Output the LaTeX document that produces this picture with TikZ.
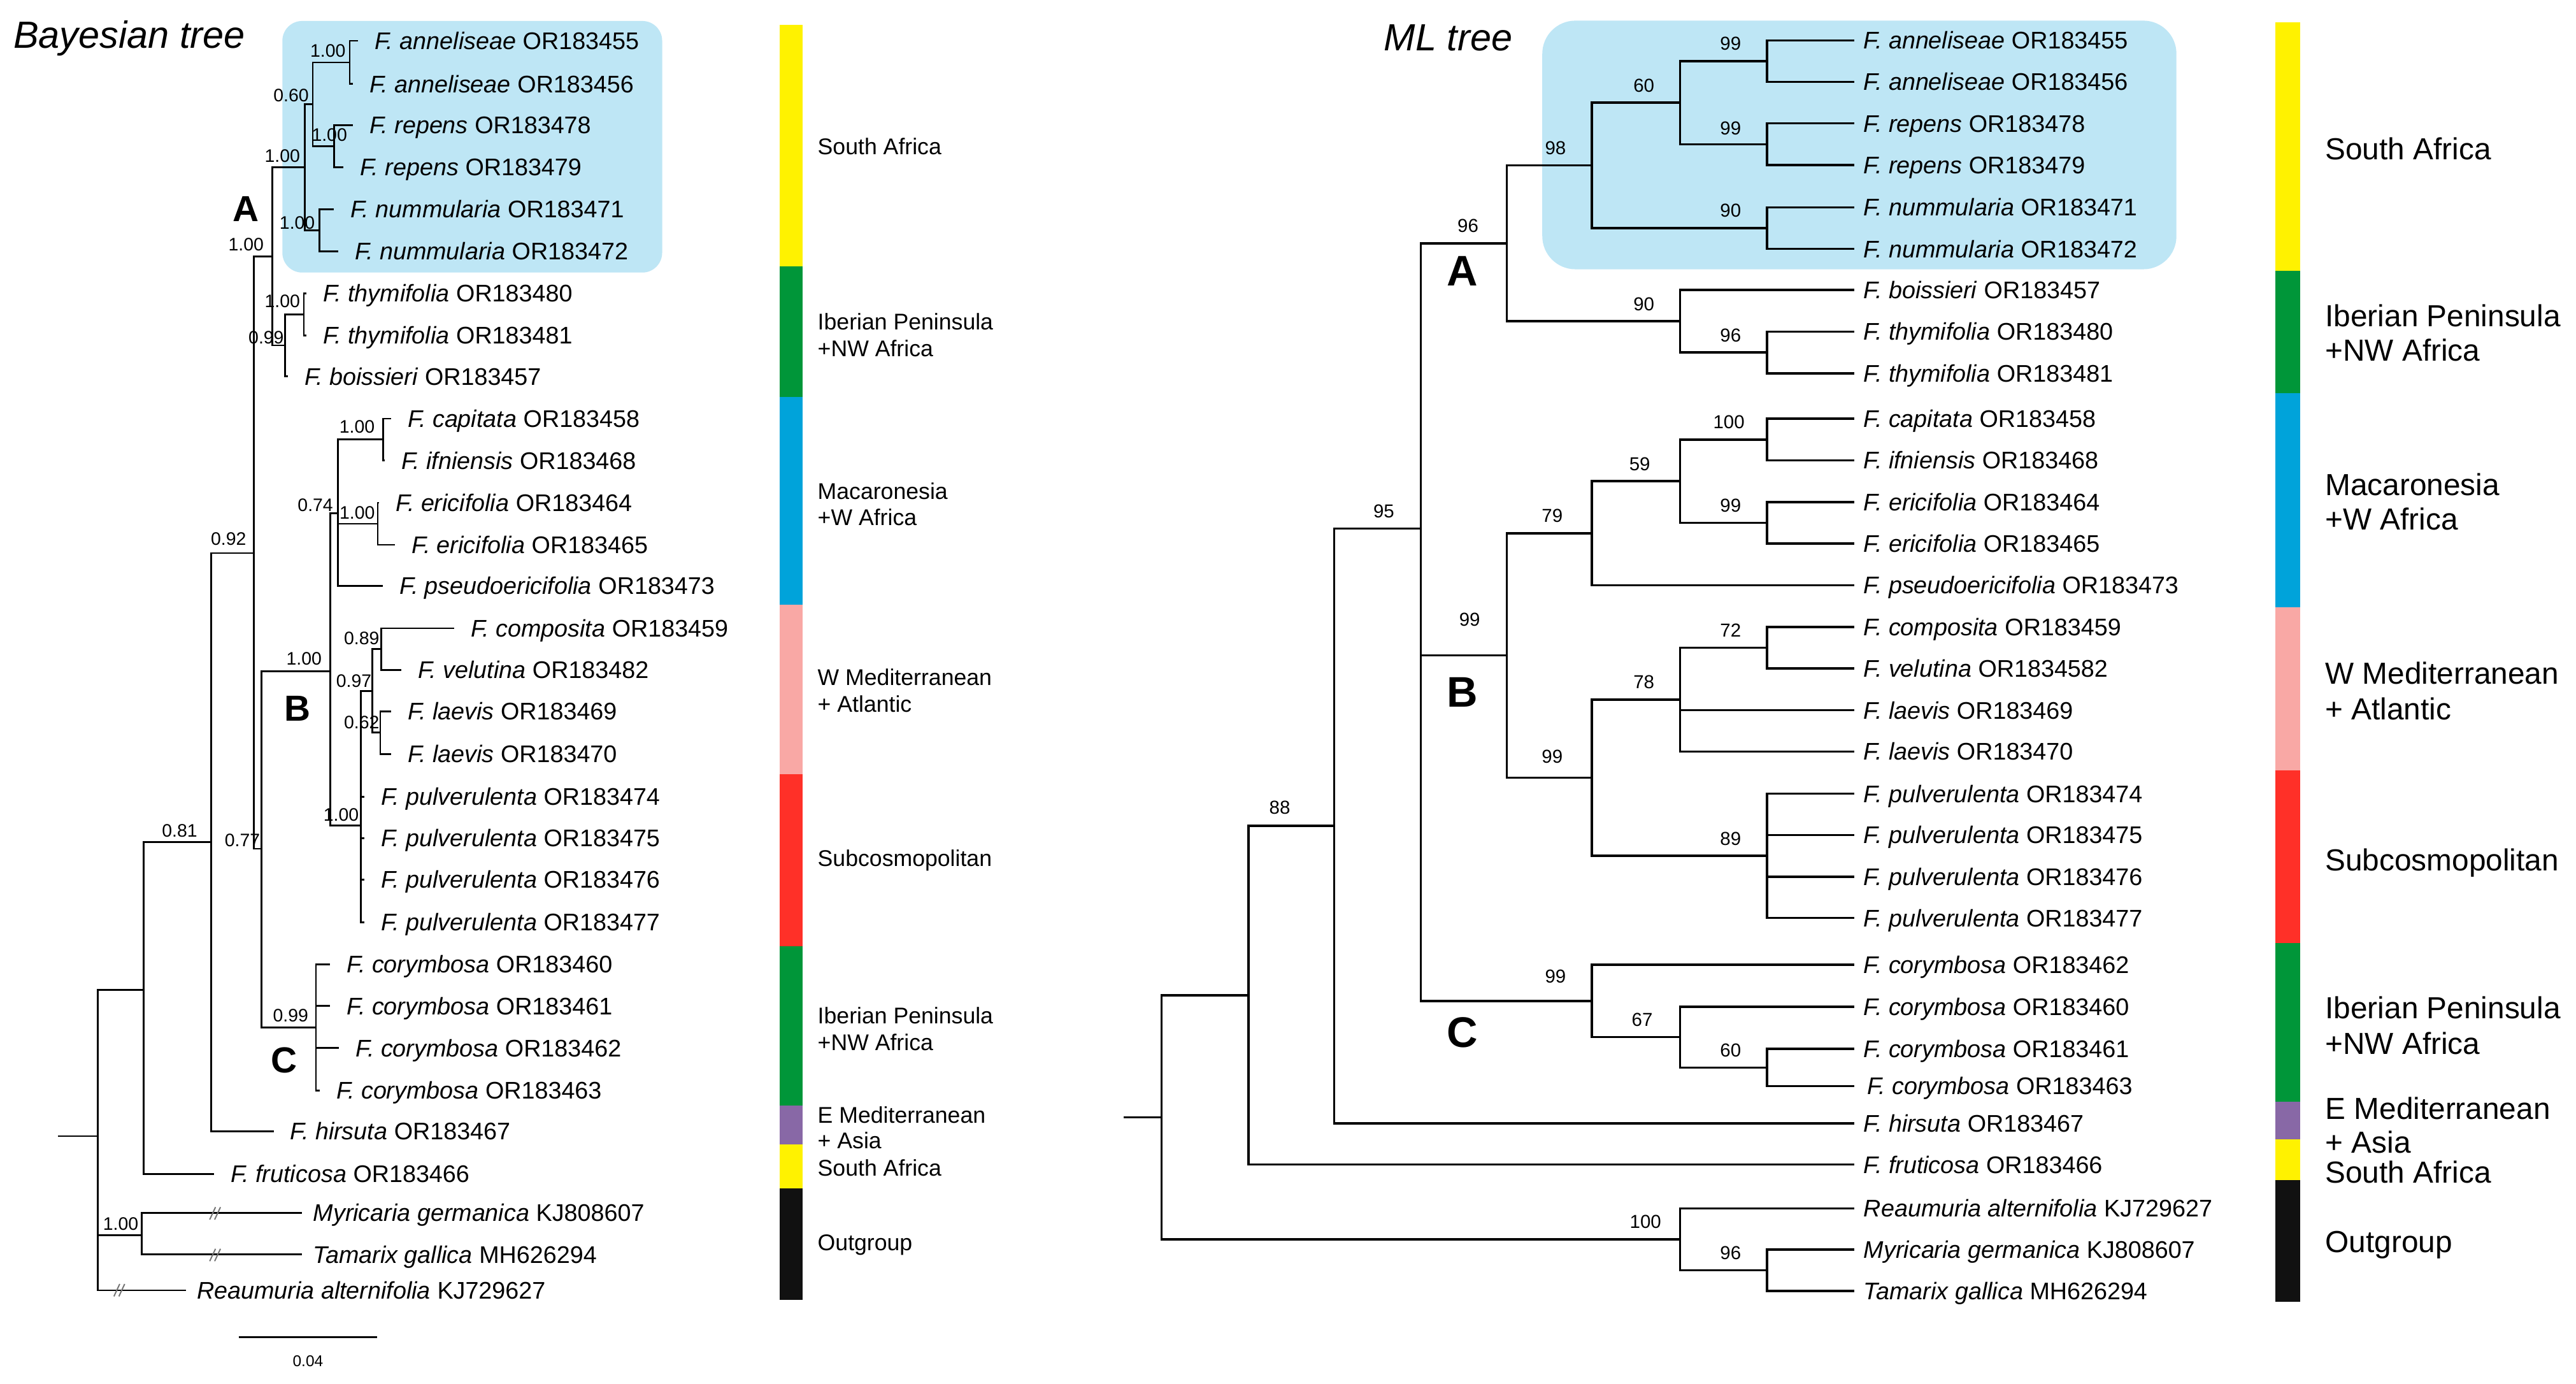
\documentclass[tikz,border=0pt]{standalone}
\usepackage{fontspec}
\setmainfont{Liberation Sans}
\definecolor{cyel}{RGB}{255,242,0}
\definecolor{cgrn}{RGB}{0,150,57}
\definecolor{cblu}{RGB}{0,163,218}
\definecolor{cpnk}{RGB}{249,168,165}
\definecolor{cred}{RGB}{255,48,40}
\definecolor{cpur}{RGB}{136,104,166}
\definecolor{cblk}{RGB}{17,17,17}
\definecolor{cbox}{RGB}{190,230,245}
\begin{document}
\begin{tikzpicture}[x=1bp,y=-1bp]
\tikzset{
  brL/.style={line width=1.05bp},
  brR/.style={line width=1.35bp},
  tax/.style={anchor=base west,inner sep=0pt,font=\fontsize{14.6}{16}\selectfont,yshift=-5.2bp},
  bsL/.style={anchor=center,inner sep=0pt,font=\fontsize{11}{12}\selectfont},
  bsR/.style={anchor=center,inner sep=0pt,font=\fontsize{11.4}{12}\selectfont},
  cladeL/.style={anchor=center,inner sep=0pt,font=\fontsize{22}{24}\selectfont\bfseries},
  cladeR/.style={anchor=center,inner sep=0pt,font=\fontsize{26}{28}\selectfont\bfseries},
  regL/.style={anchor=base west,inner sep=0pt,font=\fontsize{13.8}{16}\selectfont,yshift=-4.9bp},
  regR/.style={anchor=base west,inner sep=0pt,font=\fontsize{18.5}{21}\selectfont,yshift=-6.6bp},
  ttl/.style={anchor=base west,inner sep=0pt,font=\fontsize{23}{26}\selectfont\itshape},
  brk/.style={black!55,line width=0.75bp}
}
\fill[white] (0,0) rectangle (1560,837.5);
\useasboundingbox (0,0) rectangle (1560,837.5);

% highlight boxes
\fill[cbox,rounded corners=12bp] (171,12.7) rectangle (401,165);
\fill[cbox,rounded corners=20bp] (934,12.5) rectangle (1318,163);

% titles
\node[ttl] (titleL) at (8,29) {Bayesian tree};
\node[ttl] (titleR) at (838,30.5) {ML tree};

% ================= LEFT (Bayesian) TREE =================
\begin{scope}[yshift=2.2bp]
% tips
\coordinate (L1) at (216.9,26.9);
\coordinate (L2) at (213.7,53.0);
\coordinate (L3) at (213.7,77.9);
\coordinate (L4) at (208.0,103.4);
\coordinate (L5) at (202.2,128.8);
\coordinate (L6) at (204.7,154.3);
\coordinate (L7) at (185.5,179.8);
\coordinate (L8) at (185.5,205.3);
\coordinate (L9) at (174.3,230.1);
\coordinate (L10) at (236.7,255.6);
\coordinate (L11) at (232.9,281.0);
\coordinate (L12) at (229.7,306.6);
\coordinate (L13) at (239.3,332.0);
\coordinate (L14) at (232.0,356.9);
\coordinate (L15) at (275.0,382.6);
\coordinate (L16) at (243.0,407.7);
\coordinate (L17) at (236.7,432.8);
\coordinate (L18) at (236.7,458.6);
\coordinate (L19) at (220.7,484.5);
\coordinate (L20) at (220.7,509.6);
\coordinate (L21) at (220.7,534.7);
\coordinate (L22) at (220.7,560.5);
\coordinate (L23) at (200.0,586.0);
\coordinate (L24) at (200.0,611.2);
\coordinate (L25) at (205.4,636.6);
\coordinate (L26) at (193.5,662.3);
\coordinate (L27) at (165.7,687.1);
\coordinate (L28) at (129.6,712.9);
\coordinate (L29) at (183.0,736.4);
\coordinate (L30) at (183.0,761.6);
\coordinate (L31) at (112.6,783.3);
% internal nodes
\coordinate (Lann) at (211.8,40.0);
\coordinate (Lrep) at (202.2,90.6);
\coordinate (Lar) at (189.4,65.3);
\coordinate (Lnum) at (193.5,141.6);
\coordinate (Lsa) at (184.6,103.4);
\coordinate (Lthy) at (184.0,192.5);
\coordinate (Ltb) at (172.7,211.3);
\coordinate (LcA) at (164.8,157.4);
\coordinate (Lcap) at (232.0,268.3);
\coordinate (Leri) at (228.7,319.3);
\coordinate (Lmac) at (204.7,313.0);
\coordinate (Lcv) at (231.0,395.2);
\coordinate (Llae) at (230.3,445.7);
\coordinate (Lwm) at (225.5,420.5);
\coordinate (Lpul) at (218.5,502.0);
\coordinate (LcB) at (200.0,408.5);
\coordinate (LcC) at (191.3,624.2);
\coordinate (Lbc) at (158.4,516.0);
\coordinate (Ln92) at (153.6,337.0);
\coordinate (Ln81) at (128.0,512.0);
\coordinate (Lin) at (87.0,601.4);
\coordinate (Lout) at (85.7,750.0);
\coordinate (Lroot) at (59.2,690.0);
\coordinate (Lbase) at (35.2,690.0);

\foreach \pa/\ch in {Lann/L1,Lann/L2,Lrep/L3,Lrep/L4,Lar/Lann,Lar/Lrep,Lnum/L5,Lnum/L6,
  Lsa/Lar,Lsa/Lnum,Lthy/L7,Lthy/L8,Ltb/Lthy,Ltb/L9,LcA/Lsa,LcA/Ltb,
  Lcap/L10,Lcap/L11,Leri/L12,Leri/L13,Lmac/Lcap,Lmac/Leri,Lmac/L14,
  Lcv/L15,Lcv/L16,Llae/L17,Llae/L18,Lwm/Lcv,Lwm/Llae,
  Lpul/Lwm,Lpul/L19,Lpul/L20,Lpul/L21,Lpul/L22,LcB/Lmac,LcB/Lpul,
  LcC/L23,LcC/L24,LcC/L25,LcC/L26,Lbc/LcB,Lbc/LcC,Ln92/LcA,Ln92/Lbc,
  Ln81/Ln92,Ln81/L27,Lin/Ln81,Lin/L28,Lout/L29,Lout/L30,Lroot/Lin,Lroot/Lout,Lroot/L31}
  \draw[brL] (\pa) |- (\ch);
\draw[brL] (Lbase) -- (Lroot);

% break marks
\draw[brk] (127,740.5) -- (130.5,733) (130,740.5) -- (133.5,733);
\draw[brk] (127,765.7) -- (130.5,758.2) (130,765.7) -- (133.5,758.2);
\draw[brk] (69,787) -- (72.5,779.5) (72,787) -- (75.5,779.5);

% left taxon labels
\foreach \tn/\spn/\accn/\gp in {
  L1/F. anneliseae/OR183455/10, L2/F. anneliseae/OR183456/10,
  L3/F. repens/OR183478/10, L4/F. repens/OR183479/10,
  L5/F. nummularia/OR183471/10, L6/F. nummularia/OR183472/10,
  L7/F. thymifolia/OR183480/10, L8/F. thymifolia/OR183481/10,
  L9/F. boissieri/OR183457/10, L10/F. capitata/OR183458/10,
  L11/F. ifniensis/OR183468/10, L12/F. ericifolia/OR183464/10,
  L13/F. ericifolia/OR183465/10, L14/F. pseudoericifolia/OR183473/10,
  L15/F. composita/OR183459/10, L16/F. velutina/OR183482/10,
  L17/F. laevis/OR183469/10, L18/F. laevis/OR183470/10,
  L19/F. pulverulenta/OR183474/10, L20/F. pulverulenta/OR183475/10,
  L21/F. pulverulenta/OR183476/10, L22/F. pulverulenta/OR183477/10,
  L23/F. corymbosa/OR183460/10, L24/F. corymbosa/OR183461/10,
  L25/F. corymbosa/OR183462/10, L26/F. corymbosa/OR183463/10,
  L27/F. hirsuta/OR183467/10, L28/F. fruticosa/OR183466/10,
  L29/Myricaria germanica/KJ808607/6.5, L30/Tamarix gallica/MH626294/6.5,
  L31/Reaumuria alternifolia/KJ729627/6.5}
  \node[tax,xshift=\gp bp] (\tn-t) at (\tn) {\textit{\spn} \accn};

% left support values
\node[bsL] (bLann) at (198.6,33) {1.00};
\node[bsL] (bLrep) at (199.5,84) {1.00};
\node[bsL] (bLar) at (176.3,60) {0.60};
\node[bsL] (bLnum) at (180,137.1) {1.00};
\node[bsL] (bLsa) at (171,96.5) {1.00};
\node[bsL] (bLcA) at (149,150.2) {1.00};
\node[bsL] (bLthy) at (171,184.7) {1.00};
\node[bsL] (bLtb) at (161.2,206.7) {0.99};
\node[bsL] (bLmac) at (191,308) {0.74};
\node[bsL] (bLcap) at (216.2,260.4) {1.00};
\node[bsL] (bLeri) at (216.3,312.8) {1.00};
\node[bsL] (bLn92) at (138.4,328.6) {0.92};
\node[bsL] (bLcv) at (219,388.5) {0.89};
\node[bsL] (bLcB) at (184.1,401.1) {1.00};
\node[bsL] (bLwm) at (214.3,414.4) {0.97};
\node[bsL] (bLlae) at (219,439.5) {0.62};
\node[bsL] (bLpul) at (206.6,495.5) {1.00};
\node[bsL] (bLn81) at (108.8,505.1) {0.81};
\node[bsL] (bLbc) at (146.8,511) {0.77};
\node[bsL] (bLcC) at (176,617) {0.99};
\node[bsL] (bLout) at (73.1,743) {1.00};

\node[cladeL] (kLA) at (148.8,128.8) {A};
\node[cladeL] (kLB) at (180,431) {B};
\node[cladeL] (kLC) at (172,644) {C};
\end{scope}

% scale bar
\coordinate (sb1) at (144.6,809.5);
\coordinate (sb2) at (228.4,809.5);
\draw[line width=1.05bp] (sb1) -- (sb2);
\node[anchor=center,inner sep=0pt,font=\fontsize{9.5}{11}\selectfont] (sbl) at (186.5,824) {0.04};

% left colour bar
\fill[cyel] (472,15) rectangle (486,161.3);
\fill[cgrn] (472,161.3) rectangle (486,240.4);
\fill[cblu] (472,240.4) rectangle (486,366);
\fill[cpnk] (472,366) rectangle (486,468.5);
\fill[cred] (472,468.5) rectangle (486,572.7);
\fill[cgrn] (472,572.7) rectangle (486,669.4);
\fill[cpur] (472,669.4) rectangle (486,692.9);
\fill[cyel] (472,692.9) rectangle (486,719.6);
\fill[cblk] (472,719.6) rectangle (486,787);

\node[regL] (gL1) at (495,88.5) {South Africa};
\node[regL] (gL2a) at (495,194.8) {Iberian Peninsula};
\node[regL] (gL2b) at (495,210.8) {+NW Africa};
\node[regL] (gL3a) at (495,297.3) {Macaronesia};
\node[regL] (gL3b) at (495,313.3) {+W Africa};
\node[regL] (gL4a) at (495,410) {W Mediterranean};
\node[regL] (gL4b) at (495,426) {+ Atlantic};
\node[regL] (gL5) at (495,519.5) {Subcosmopolitan};
\node[regL] (gL6a) at (495,615) {Iberian Peninsula};
\node[regL] (gL6b) at (495,631) {+NW Africa};
\node[regL] (gL7a) at (495,675) {E Mediterranean};
\node[regL] (gL7b) at (495,690.5) {+ Asia};
\node[regL] (gL8) at (495,707) {South Africa};
\node[regL] (gL9) at (495,752) {Outgroup};

% ================= RIGHT (ML) TREE =================
\foreach \tn/\yy in {R1/24.5,R2/49.5,R3/74.7,R4/100,R5/125.5,R6/150.7,R7/175.5,R8/200.7,R9/226,
  R10/253.5,R11/278.7,R12/304,R13/329,R14/354.3,R15/379.5,R16/404.7,R17/430,R18/455,
  R19/480.5,R20/505.5,R21/530.7,R22/555.7,R23/584,R24/609.5,R25/635,R26/657.5,
  R27/680,R28/705,R29/731.5,R30/756.5,R31/781.5}
  \coordinate (\tn) at (1123,\yy);
\coordinate (Ra1) at (1070,37);
\coordinate (Ra2) at (1070,87.35);
\coordinate (Ra3) at (1017.5,62.2);
\coordinate (Ra4) at (1070,138.1);
\coordinate (Ra5) at (964,100.1);
\coordinate (Rt1) at (1070,213.35);
\coordinate (Rt2) at (1017.5,194.4);
\coordinate (RcA) at (912.5,147.3);
\coordinate (Rm1) at (1070,266.1);
\coordinate (Rm2) at (1070,316.5);
\coordinate (Rm3) at (1017.5,291.3);
\coordinate (Rm4) at (964,322.8);
\coordinate (Rw1) at (1070,392.1);
\coordinate (Rw2) at (1017.5,423.5);
\coordinate (Rp1) at (1070,518.1);
\coordinate (Rw3) at (964,470.8);
\coordinate (RcB) at (912.5,396.8);
\coordinate (Rc1) at (1070,646.25);
\coordinate (Rc2) at (1017.5,627.9);
\coordinate (RcC) at (964,606);
\coordinate (Rn95) at (860.5,320);
\coordinate (Rn88) at (808,500);
\coordinate (Rin) at (756,602.5);
\coordinate (Ro1) at (1070,769);
\coordinate (Ro2) at (1017.5,750.25);
\coordinate (Rroot) at (703.5,676.4);
\coordinate (Rbase) at (680.5,676.4);

\foreach \pa/\ch in {Ra1/R1,Ra1/R2,Ra2/R3,Ra2/R4,Ra3/Ra1,Ra3/Ra2,Ra4/R5,Ra4/R6,Ra5/Ra3,Ra5/Ra4,
  Rt1/R8,Rt1/R9,Rt2/R7,Rt2/Rt1,RcA/Ra5,RcA/Rt2,
  Rm1/R10,Rm1/R11,Rm2/R12,Rm2/R13,Rm3/Rm1,Rm3/Rm2,Rm4/Rm3,Rm4/R14,
  Rw1/R15,Rw1/R16,Rw2/Rw1,Rw2/R17,Rw2/R18,Rp1/R19,Rp1/R20,Rp1/R21,Rp1/R22,
  Rw3/Rw2,Rw3/Rp1,RcB/Rm4,RcB/Rw3,
  Rc1/R25,Rc1/R26,Rc2/R24,Rc2/Rc1,RcC/R23,RcC/Rc2,
  Rn95/RcA,Rn95/RcB,Rn95/RcC,Rn88/Rn95,Rn88/R27,Rin/Rn88,Rin/R28,
  Ro1/R30,Ro1/R31,Ro2/R29,Ro2/Ro1,Rroot/Rin,Rroot/Ro2}
  \draw[brR] (\pa) |- (\ch);
\draw[brR] (Rbase) -- (Rroot);

\foreach \tn/\spn/\accn/\gp in {
  R1/F. anneliseae/OR183455/5.5, R2/F. anneliseae/OR183456/5.5,
  R3/F. repens/OR183478/5.5, R4/F. repens/OR183479/5.5,
  R5/F. nummularia/OR183471/5.5, R6/F. nummularia/OR183472/5.5,
  R7/F. boissieri/OR183457/5.5, R8/F. thymifolia/OR183480/5.5,
  R9/F. thymifolia/OR183481/5.5, R10/F. capitata/OR183458/5.5,
  R11/F. ifniensis/OR183468/5.5, R12/F. ericifolia/OR183464/5.5,
  R13/F. ericifolia/OR183465/5.5, R14/F. pseudoericifolia/OR183473/5.5,
  R15/F. composita/OR183459/5.5, R16/F. velutina/OR1834582/5.5,
  R17/F. laevis/OR183469/5.5, R18/F. laevis/OR183470/5.5,
  R19/F. pulverulenta/OR183474/5.5, R20/F. pulverulenta/OR183475/5.5,
  R21/F. pulverulenta/OR183476/5.5, R22/F. pulverulenta/OR183477/5.5,
  R23/F. corymbosa/OR183462/5.5, R24/F. corymbosa/OR183460/5.5,
  R25/F. corymbosa/OR183461/5.5, R26/F. corymbosa/OR183463/7.5,
  R27/F. hirsuta/OR183467/5.5, R28/F. fruticosa/OR183466/5.5,
  R29/Reaumuria alternifolia/KJ729627/5.5, R30/Myricaria germanica/KJ808607/5.5,
  R31/Tamarix gallica/MH626294/5.5}
  \node[tax,xshift=\gp bp] (\tn-t) at (\tn) {\textit{\spn} \accn};

% right support values
\node[bsR] (bRa1) at (1048,26.5) {99};
\node[bsR] (bRa2) at (1048,77.5) {99};
\node[bsR] (bRa3) at (995.5,51.7) {60};
\node[bsR] (bRa4) at (1048,127.6) {90};
\node[bsR] (bRa5) at (942,89.6) {98};
\node[bsR] (bRcA) at (889,136.8) {96};
\node[bsR] (bRt2) at (995.5,184) {90};
\node[bsR] (bRt1) at (1048,202.9) {96};
\node[bsR] (bRm1) at (1047,255.6) {100};
\node[bsR] (bRm2) at (1048,306) {99};
\node[bsR] (bRm3) at (993,280.8) {59};
\node[bsR] (bRm4) at (940,312.3) {79};
\node[bsR] (bRw1) at (1048,381.6) {72};
\node[bsR] (bRw2) at (995.5,413) {78};
\node[bsR] (bRp1) at (1048,507.6) {89};
\node[bsR] (bRw3) at (940,458) {99};
\node[bsR] (bRcB) at (890,375) {99};
\node[bsR] (bRn95) at (838,309.5) {95};
\node[bsR] (bRn88) at (775,489) {88};
\node[bsR] (bRcC) at (942,591) {99};
\node[bsR] (bRc2) at (994.5,617.4) {67};
\node[bsR] (bRc1) at (1048,635.8) {60};
\node[bsR] (bRo2) at (996.5,739.8) {100};
\node[bsR] (bRo1) at (1048,758.5) {96};

\node[cladeR] (kRA) at (885.5,164) {A};
\node[cladeR] (kRB) at (885.5,419) {B};
\node[cladeR] (kRC) at (885.5,625) {C};

% right colour bar
\fill[cyel] (1378,13.5) rectangle (1393,163.8);
\fill[cgrn] (1378,163.8) rectangle (1393,238.2);
\fill[cblu] (1378,238.2) rectangle (1393,367.6);
\fill[cpnk] (1378,367.6) rectangle (1393,466.2);
\fill[cred] (1378,466.2) rectangle (1393,571);
\fill[cgrn] (1378,571) rectangle (1393,667);
\fill[cpur] (1378,667) rectangle (1393,689.6);
\fill[cyel] (1378,689.6) rectangle (1393,714.4);
\fill[cblk] (1378,714.4) rectangle (1393,788);

\node[regR] (gR1) at (1408,90) {South Africa};
\node[regR] (gR2a) at (1408,191) {Iberian Peninsula};
\node[regR] (gR2b) at (1408,212) {+NW Africa};
\node[regR] (gR3a) at (1408,293.5) {Macaronesia};
\node[regR] (gR3b) at (1408,314) {+W Africa};
\node[regR] (gR4a) at (1408,407.5) {W Mediterranean};
\node[regR] (gR4b) at (1408,429) {+ Atlantic};
\node[regR] (gR5) at (1408,520.5) {Subcosmopolitan};
\node[regR] (gR6a) at (1408,610) {Iberian Peninsula};
\node[regR] (gR6b) at (1408,631.5) {+NW Africa};
\node[regR] (gR7a) at (1408,671) {E Mediterranean};
\node[regR] (gR7b) at (1408,691.5) {+ Asia};
\node[regR] (gR8) at (1408,709.5) {South Africa};
\node[regR] (gR9) at (1408,751.5) {Outgroup};
\end{tikzpicture}
\end{document}
